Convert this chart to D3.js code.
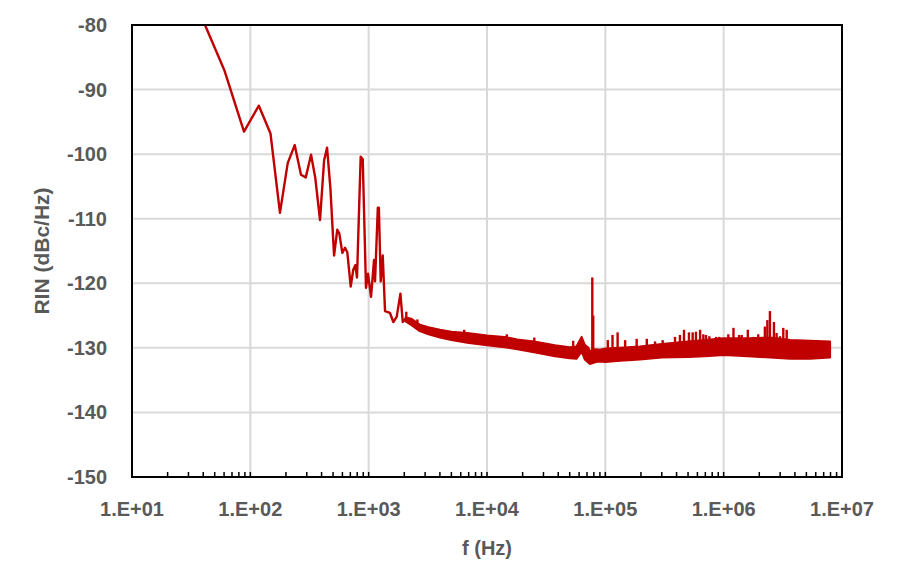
<!DOCTYPE html>
<html><head><meta charset="utf-8">
<script src="https://cdn.jsdelivr.net/npm/d3@7"></script>
<style>html,body{margin:0;padding:0;background:#fff;}svg{display:block;}</style>
</head><body>
<svg id="chart" width="900" height="587"></svg>
<script>
// ---- data ----
const xTickValues = [1e1, 1e2, 1e3, 1e4, 1e5, 1e6, 1e7];
const xTickLabels = ["1.E+01", "1.E+02", "1.E+03", "1.E+04", "1.E+05", "1.E+06", "1.E+07"];
const yTickValues = [-80, -90, -100, -110, -120, -130, -140, -150];

// low-frequency trace
const lineF = [41.4, 60.3, 88.4, 118, 148, 178, 207, 237, 268, 294, 326, 354, 388, 420, 445, 475, 510, 543, 565, 599, 631, 660, 705, 741, 771, 797, 856, 891, 949, 987, 1047, 1110, 1132, 1195, 1220, 1264, 1315, 1375, 1514, 1616, 1725, 1855, 1941, 2050];
const lineV = [-80, -87.0, -96.5, -92.5, -96.8, -109.1, -101.4, -98.6, -103.2, -103.6, -100.1, -103.7, -110.2, -101.0, -99.0, -105.3, -115.7, -111.7, -112.3, -115.3, -114.5, -115.2, -120.5, -117.9, -117.2, -119.1, -100.4, -100.8, -120.7, -118.5, -122.1, -116.4, -119.7, -108.3, -108.3, -119.7, -115.7, -124.3, -124.6, -126.0, -125.2, -121.6, -126.0, -125.5];

// dense noise band: upper / lower envelope
const bandF  = [2050, 2300, 2700, 3200, 4000, 5000, 6800, 10000, 14000, 18000, 25000, 37500, 50000, 57000, 63000, 67000, 72000, 74000, 83000, 90000, 100000, 133000, 196000, 300000, 500000, 700000, 1.0e6, 1.6e6, 2.47e6, 3.64e6, 5.37e6, 7.93e6];
const bandHi = [-125.3, -125.5, -126.4, -126.8, -127.2, -127.5, -127.7, -128.1, -128.3, -128.7, -129.0, -129.6, -129.9, -129.8, -128.3, -129.5, -130.0, -130.5, -130.2, -130.3, -130.1, -130.0, -129.8, -129.4, -129.0, -128.8, -128.5, -128.5, -128.4, -128.8, -128.9, -129.0];
const bandLo = [-125.9, -126.5, -127.4, -127.9, -128.4, -128.8, -129.2, -129.6, -129.9, -130.2, -130.7, -131.3, -131.6, -131.7, -130.6, -131.8, -132.3, -132.5, -132.2, -132.1, -132.2, -132.0, -131.8, -131.5, -131.4, -131.3, -131.1, -131.3, -131.5, -131.7, -131.7, -131.5];

// narrow spikes rising above the band
const spikeF   = [2080, 2580, 4010, 6420, 14700, 25100, 53500, 77600, 79000, 105000, 115000, 127000, 147000, 184000, 224000, 263000, 305000, 388000, 427000, 462000, 509000, 547000, 583000, 632000, 673000, 709000, 757000, 863000, 918000, 1.095e6, 1.21e6, 1.35e6, 1.42e6, 1.60e6, 1.78e6, 1.96e6, 2.23e6, 2.34e6, 2.46e6, 2.66e6, 2.80e6, 2.99e6, 3.19e6, 3.41e6];
const spikeTop = [-124.4, -125.6, -127.1, -127.2, -127.9, -128.4, -128.9, -119.1, -125.0, -128.8, -128.0, -127.6, -128.8, -128.6, -128.6, -129.0, -128.8, -128.3, -128.0, -127.2, -127.6, -127.6, -127.5, -127.2, -127.9, -128.0, -128.2, -128.3, -128.3, -127.9, -126.9, -128.0, -128.0, -127.2, -128.3, -127.9, -126.7, -125.7, -124.3, -126.0, -127.7, -128.2, -126.9, -127.2];

// ---- layout ----
const L = 132, R = 842, T = 25, B = 477;
const red = "#C00000", grey = "#595959", gridC = "#D9D9D9";
const font = "'Liberation Sans', Arial, sans-serif";

const svg = d3.select("#chart");
const x = d3.scaleLog().domain([1e1, 1e7]).range([L, R]);
const y = d3.scaleLinear().domain([-150, -80]).range([B, T]);

// gridlines
svg.append("g").selectAll("line").data(yTickValues).join("line")
  .attr("x1", L).attr("x2", R).attr("y1", d => y(d)).attr("y2", d => y(d))
  .attr("stroke", gridC).attr("stroke-width", 2);
svg.append("g").selectAll("line").data(xTickValues).join("line")
  .attr("x1", d => x(d)).attr("x2", d => x(d)).attr("y1", T).attr("y2", B)
  .attr("stroke", gridC).attr("stroke-width", 2);

// clip
svg.append("clipPath").attr("id", "clip").append("rect")
  .attr("x", L).attr("y", T).attr("width", R - L).attr("height", B - T);
const plot = svg.append("g").attr("clip-path", "url(#clip)");

// band
const band = bandF.map((f, i) => ({f, hi: bandHi[i], lo: bandLo[i]}));
plot.append("path").datum(band)
  .attr("d", d3.area().x(d => x(d.f)).y0(d => y(d.lo)).y1(d => y(d.hi)))
  .attr("fill", red).attr("stroke", red).attr("stroke-width", 2).attr("stroke-linejoin", "round");

// spikes
const hiAt = d3.scaleLog().domain(bandF).range(bandHi);
plot.append("g").selectAll("line").data(spikeF.map((f, i) => ({f, top: spikeTop[i]}))).join("line")
  .attr("x1", d => x(d.f)).attr("x2", d => x(d.f))
  .attr("y1", d => y(hiAt(d.f)) + 1).attr("y2", d => y(d.top))
  .attr("stroke", red).attr("stroke-width", 2.4);

// main line
const pts = lineF.map((f, i) => ({f, v: lineV[i]}));
plot.append("path").datum(pts)
  .attr("d", d3.line().x(d => x(d.f)).y(d => y(d.v)))
  .attr("fill", "none").attr("stroke", red).attr("stroke-width", 2.4).attr("stroke-linejoin", "round");

// frame
svg.append("rect").attr("x", L).attr("y", T).attr("width", R - L).attr("height", B - T)
  .attr("fill", "none").attr("stroke", "#000").attr("stroke-width", 2);

// minor/major ticks on x axis (inside)
const tickVals = [];
for (let d = 1; d < 7; d++) for (let k = 1; k <= 9; k++) tickVals.push(k * Math.pow(10, d));
tickVals.push(1e7);
svg.append("g").selectAll("line").data(tickVals).join("line")
  .attr("x1", d => x(d)).attr("x2", d => x(d)).attr("y1", B).attr("y2", B - 5)
  .attr("stroke", "#000").attr("stroke-width", 1.5);

// tick labels
svg.append("g").selectAll("text").data(yTickValues).join("text")
  .attr("x", 107).attr("y", d => y(d)).attr("dy", "0.35em")
  .attr("text-anchor", "end").attr("fill", grey)
  .style("font-family", font).style("font-weight", "bold").style("font-size", "20px")
  .text(d => d);
svg.append("g").selectAll("text").data(xTickValues).join("text")
  .attr("x", d => x(d)).attr("y", 509).attr("dy", "0.35em")
  .attr("text-anchor", "middle").attr("fill", grey)
  .style("font-family", font).style("font-weight", "bold").style("font-size", "20px")
  .text((d, i) => xTickLabels[i]);

// axis titles
svg.append("text").attr("x", 487).attr("y", 548).attr("dy", "0.35em")
  .attr("text-anchor", "middle").attr("fill", grey)
  .style("font-family", font).style("font-weight", "bold").style("font-size", "20px")
  .text("f (Hz)");
svg.append("text").attr("transform", "translate(42,251) rotate(-90)").attr("dy", "0.35em")
  .attr("text-anchor", "middle").attr("fill", grey)
  .style("font-family", font).style("font-weight", "bold").style("font-size", "21px")
  .text("RIN (dBc/Hz)");
</script>
</body></html>
